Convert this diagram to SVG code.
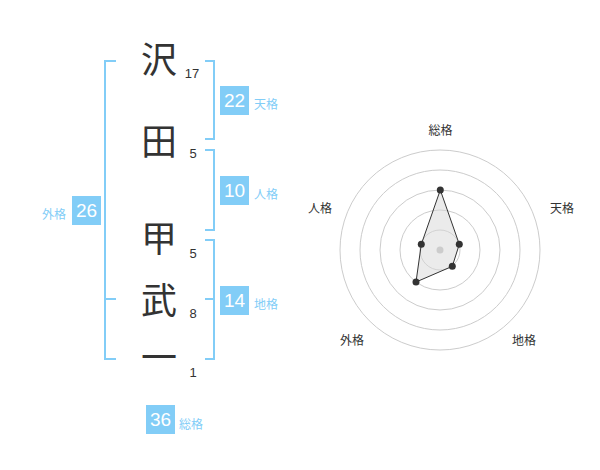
<svg xmlns="http://www.w3.org/2000/svg" width="600" height="470" viewBox="0 0 600 470">
<style>
.kanji{font-family:"Noto Sans CJK JP","Noto Sans CJK SC",sans-serif;font-size:36px;fill:#333;text-anchor:middle}
.num{font-family:"Liberation Sans",Arial,sans-serif;font-size:13px;fill:#333;text-anchor:middle}
.br{fill:none;stroke:#82cdf7;stroke-width:2}
.box{fill:#82cdf7}
.bt{font-family:"Liberation Sans",Arial,sans-serif;font-size:19px;fill:#fff;text-anchor:middle}
.lb{font-family:"Noto Sans CJK JP","Noto Sans CJK SC",sans-serif;font-size:12px;fill:#82cdf7}
.ring{fill:none;stroke:#ccc;stroke-width:1}
.rl{font-family:"Noto Sans CJK JP","Noto Sans CJK SC",sans-serif;font-size:12px;fill:#333;text-anchor:middle}
.pt{fill:#333}
</style>
<rect width="600" height="470" fill="#fff"/>
<g id="name">
<text class="kanji" x="159" y="73">沢</text>
<text class="kanji" x="159" y="155">田</text>
<text class="kanji" x="159" y="252">甲</text>
<text class="kanji" x="159" y="314">武</text>
<text class="kanji" x="159" y="371">一</text>
</g>
<g id="strokes">
<text class="num" x="192" y="78">17</text>
<text class="num" x="193" y="158">5</text>
<text class="num" x="193" y="258">5</text>
<text class="num" x="193" y="318">8</text>
<text class="num" x="193" y="377">1</text>
</g>
<g id="connectors">
<path class="br" d="M116,61 H105 V359 H116 M105,299 H116"/>
<path class="br" d="M205,61 H214 V139 H205"/>
<path class="br" d="M205,150 H214 V230 H205"/>
<path class="br" d="M205,240 H214 V359 H205 M214,299 H205"/>
</g>
<g id="tenkaku">
<rect class="box" x="220" y="86" width="29" height="29"/>
<text class="bt" x="234.5" y="107">22</text>
<text class="lb" x="254" y="108.5">天格</text>
</g>
<g id="jinkaku">
<rect class="box" x="220" y="176" width="29" height="29"/>
<text class="bt" x="234.5" y="197">10</text>
<text class="lb" x="254" y="198.5">人格</text>
</g>
<g id="chikaku">
<rect class="box" x="220" y="286" width="29" height="29"/>
<text class="bt" x="234.5" y="307">14</text>
<text class="lb" x="254" y="308.5">地格</text>
</g>
<g id="gaikaku">
<rect class="box" x="72" y="196" width="29" height="29"/>
<text class="bt" x="86.5" y="217">26</text>
<text class="lb" x="66" y="218.5" text-anchor="end">外格</text>
</g>
<g id="soukaku">
<rect class="box" x="146" y="405" width="29" height="29"/>
<text class="bt" x="160.5" y="426">36</text>
<text class="lb" x="179" y="428.5">総格</text>
</g>
<g id="radar">
<circle class="ring" cx="440" cy="250" r="20"/>
<circle class="ring" cx="440" cy="250" r="40"/>
<circle class="ring" cx="440" cy="250" r="60"/>
<circle class="ring" cx="440" cy="250" r="80"/>
<circle class="ring" cx="440" cy="250" r="100"/>
<polygon points="440.3,190 459.3,244.3 452.3,266.3 416,282 421.3,244.3" fill="#d8d8d8" fill-opacity="0.5" stroke="#333" stroke-width="1"/>
<circle cx="440" cy="250" r="3.5" fill="#ccc"/>
<circle class="pt" cx="440.3" cy="190" r="3.5"/>
<circle class="pt" cx="459.3" cy="244.3" r="3.5"/>
<circle class="pt" cx="452.3" cy="266.3" r="3.5"/>
<circle class="pt" cx="416" cy="282" r="3.5"/>
<circle class="pt" cx="421.3" cy="244.3" r="3.5"/>
<text class="rl" x="440.5" y="135">総格</text>
<text class="rl" x="562" y="213">天格</text>
<text class="rl" x="524" y="345">地格</text>
<text class="rl" x="352" y="345">外格</text>
<text class="rl" x="320" y="213">人格</text>
</g>
</svg>
